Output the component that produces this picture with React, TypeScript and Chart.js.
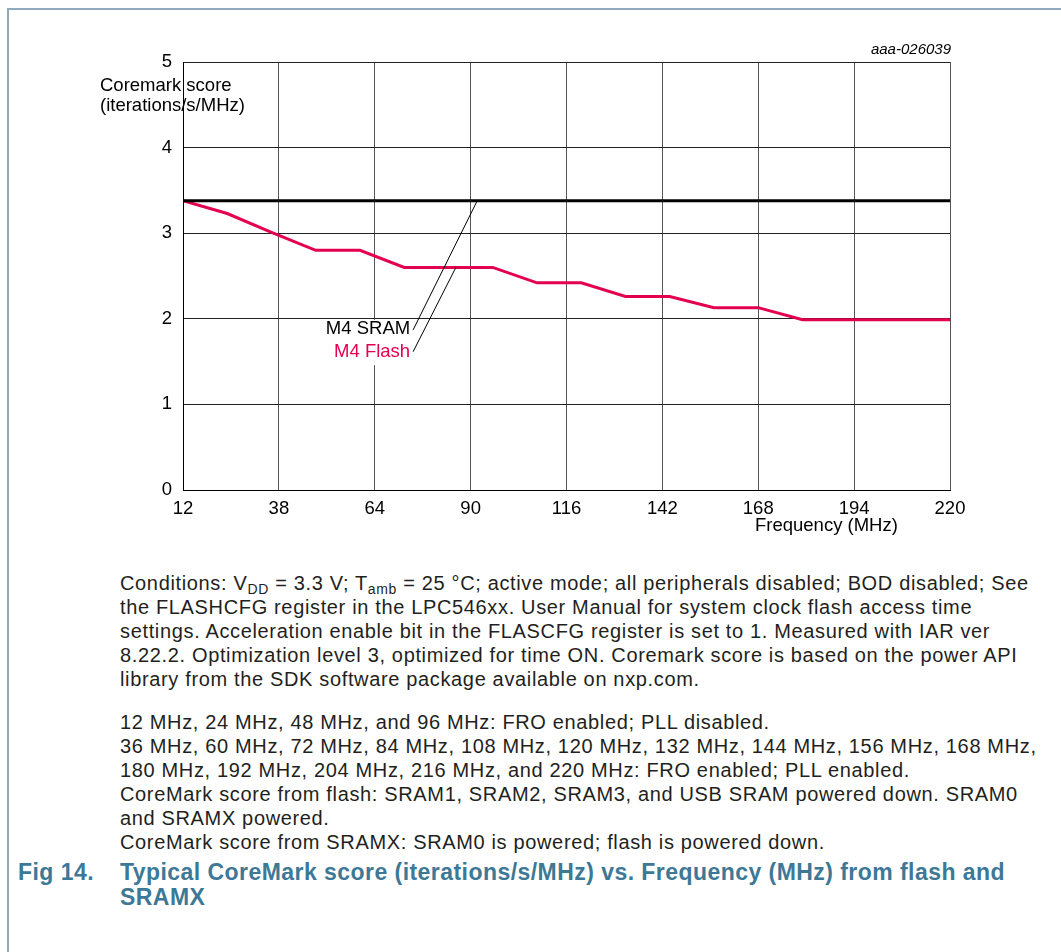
import React, { useEffect, useRef } from "react";
import { Chart, registerables } from "chart.js";

Chart.register(...registerables);

const frequencies = [12, 24, 36, 48, 60, 72, 84, 96, 108, 120, 132, 144, 156, 168, 180, 192, 204, 216, 220];
const sramScore = [3.38, 3.38, 3.38, 3.38, 3.38, 3.38, 3.38, 3.38, 3.38, 3.38, 3.38, 3.38, 3.38, 3.38, 3.38, 3.38, 3.38, 3.38, 3.38];
const flashScore = [3.38, 3.23, 3.01, 2.8, 2.8, 2.6, 2.6, 2.6, 2.42, 2.42, 2.26, 2.26, 2.13, 2.13, 1.99, 1.99, 1.99, 1.99, 1.99];
const xTickValues = [12, 38, 64, 90, 116, 142, 168, 194, 220];
const yTickValues = [0, 1, 2, 3, 4, 5];

const FONT = '"Liberation Sans", Arial, Helvetica, sans-serif';
const PINK = "#e2004f";

const conditionLines = [
  "the FLASHCFG register in the LPC546xx. User Manual for system clock flash access time",
  "settings. Acceleration enable bit in the FLASCFG register is set to 1. Measured with IAR ver",
  "8.22.2. Optimization level 3, optimized for time ON. Coremark score is based on the power API",
  "library from the SDK software package available on nxp.com.",
];
const noteLines = [
  "12 MHz, 24 MHz, 48 MHz, and 96 MHz: FRO enabled; PLL disabled.",
  "36 MHz, 60 MHz, 72 MHz, 84 MHz, 108 MHz, 120 MHz, 132 MHz, 144 MHz, 156 MHz, 168 MHz,",
  "180 MHz, 192 MHz, 204 MHz, 216 MHz, and 220 MHz: FRO enabled; PLL enabled.",
  "CoreMark score from flash: SRAM1, SRAM2, SRAM3, and USB SRAM powered down. SRAM0",
  "and SRAMX powered.",
  "CoreMark score from SRAMX: SRAM0 is powered; flash is powered down.",
];

const labelPlugin = {
  id: "seriesLabels",
  afterDatasetsDraw(chart: any) {
    const { ctx, scales } = chart;
    const xs = scales.x;
    const ys = scales.y;
    const px = (v: number) => xs.getPixelForValue(v);
    const py = (v: number) => ys.getPixelForValue(v);
    ctx.save();
    ctx.fillStyle = "#fff";
    ctx.fillRect(px(49), py(2.0) + 1, px(73.6) - px(49), py(1.47) - py(2.0));
    ctx.font = `18.5px ${FONT}`;
    ctx.textAlign = "right";
    ctx.textBaseline = "middle";
    ctx.fillStyle = "#000";
    ctx.fillText("M4 SRAM", px(73.6), py(1.88));
    ctx.fillStyle = PINK;
    ctx.fillText("M4 Flash", px(73.6), py(1.61));
    ctx.strokeStyle = "#000";
    ctx.lineWidth = 1;
    ctx.beginPath();
    ctx.moveTo(px(74.4), py(1.87));
    ctx.lineTo(px(91.8), py(3.38));
    ctx.moveTo(px(74.4), py(1.615));
    ctx.lineTo(px(86.0), py(2.6));
    ctx.stroke();
    ctx.restore();
  },
};

function CoremarkChart() {
  const ref = useRef<HTMLCanvasElement | null>(null);
  useEffect(() => {
    if (!ref.current) return;
    const chart = new Chart(ref.current, {
      type: "line",
      data: {
        datasets: [
          {
            label: "M4 SRAM",
            data: frequencies.map((f, i) => ({ x: f, y: sramScore[i] })),
            borderColor: "#000",
            borderWidth: 3,
            pointRadius: 0,
            tension: 0,
          },
          {
            label: "M4 Flash",
            data: frequencies.map((f, i) => ({ x: f, y: flashScore[i] })),
            borderColor: PINK,
            borderWidth: 3,
            pointRadius: 0,
            tension: 0,
          },
        ],
      },
      options: {
        responsive: false,
        animation: false,
        devicePixelRatio: 1,
        layout: { padding: { left: 0, top: 62, right: 111, bottom: 0 } },
        plugins: { legend: { display: false }, tooltip: { enabled: false }, title: { display: false } },
        scales: {
          x: {
            type: "linear",
            min: 12,
            max: 220,
            afterBuildTicks: (s: any) => {
              s.ticks = xTickValues.map((v) => ({ value: v }));
            },
            afterFit: (s: any) => {
              s.height = 70;
            },
            grid: { color: "#555", lineWidth: 1, drawTicks: false },
            border: { display: true, color: "#000", width: 1 },
            ticks: {
              color: "#000",
              font: { family: FONT, size: 18.5 },
              padding: 8,
              maxRotation: 0,
              autoSkip: false,
            },
          },
          y: {
            type: "linear",
            min: 0,
            max: 5,
            afterBuildTicks: (s: any) => {
              s.ticks = yTickValues.map((v) => ({ value: v }));
            },
            afterFit: (s: any) => {
              s.width = 183;
            },
            grid: { color: "#222", lineWidth: 1, drawTicks: false },
            border: { display: true, color: "#000", width: 1 },
            ticks: {
              color: "#000",
              font: { family: FONT, size: 18.5 },
              padding: 11,
            },
          },
        },
      },
      plugins: [labelPlugin],
    });
    return () => chart.destroy();
  }, []);
  return <canvas ref={ref} width={1061} height={560} style={{ position: "absolute", left: 0, top: 0 }} />;
}

export default function App() {
  const textStyle: React.CSSProperties = {
    position: "absolute",
    left: 120,
    whiteSpace: "nowrap",
    fontSize: 20,
    letterSpacing: "0.65px",
    lineHeight: "24px",
    color: "#231f20",
  };
  const sub: React.CSSProperties = { fontSize: 14, verticalAlign: "-4px", lineHeight: 0 };
  const captionStyle: React.CSSProperties = {
    position: "absolute",
    top: 860,
    fontSize: 23,
    fontWeight: "bold",
    letterSpacing: "0.45px",
    lineHeight: "25px",
    color: "#3d7896",
    whiteSpace: "nowrap",
  };
  return (
    <div
      style={{
        position: "absolute",
        left: 0,
        top: 0,
        width: 1061,
        height: 952,
        overflow: "hidden",
        background: "#fff",
        fontFamily: FONT,
      }}
    >
      <div
        style={{
          position: "absolute",
          left: 7,
          top: 8,
          width: 1100,
          height: 1000,
          borderTop: "2px solid #8eaabb",
          borderLeft: "2px solid #8eaabb",
        }}
      />
      <CoremarkChart />
      <div style={{ position: "absolute", right: 1061 - 951, top: 40, fontSize: 15, fontStyle: "italic", color: "#000" }}>
        aaa-026039
      </div>
      <div style={{ position: "absolute", left: 100, top: 75, fontSize: 18.5, lineHeight: "20px", color: "#000", whiteSpace: "nowrap" }}>
        Coremark score
        <br />
        (iterations/s/MHz)
      </div>
      <div style={{ position: "absolute", left: 755, top: 515, fontSize: 18.5, lineHeight: "20px", color: "#000", whiteSpace: "nowrap" }}>
        Frequency (MHz)
      </div>
      <div style={{ ...textStyle, top: 571 }}>
        Conditions: V<span style={sub}>DD</span> = 3.3 V; T<span style={sub}>amb</span> = 25 °C; active mode; all peripherals disabled; BOD disabled; See
      </div>
      {conditionLines.map((l, i) => (
        <div key={"c" + i} style={{ ...textStyle, top: 571 + 24 * (i + 1) }}>
          {l}
        </div>
      ))}
      {noteLines.map((l, i) => (
        <div key={"n" + i} style={{ ...textStyle, top: 710 + 24 * i }}>
          {l}
        </div>
      ))}
      <div style={{ ...captionStyle, left: 18 }}>Fig 14.</div>
      <div style={{ ...captionStyle, left: 120 }}>
        Typical CoreMark score (iterations/s/MHz) vs. Frequency (MHz) from flash and
        <br />
        SRAMX
      </div>
    </div>
  );
}
